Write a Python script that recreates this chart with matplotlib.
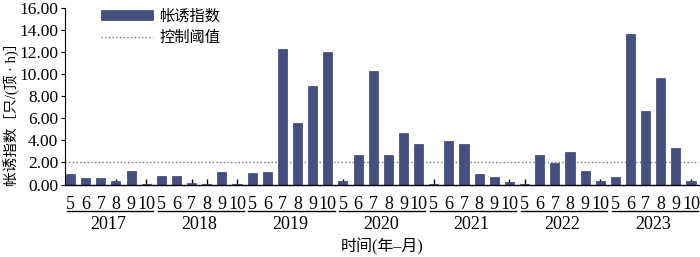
import numpy as np
import matplotlib
matplotlib.use('Agg')
import matplotlib.pyplot as plt
import matplotlib.transforms as mtransforms

plt.rcParams['font.family'] = ['Liberation Serif', 'Noto Sans CJK SC']

years = ['2017', '2018', '2019', '2020', '2021', '2022', '2023']
months = ['5', '6', '7', '8', '9', '10']
# trap index per month (May-Oct), one row per year
values = [
    [0.91, 0.62, 0.55, 0.30, 1.27, 0.05],
    [0.78, 0.78, 0.15, 0.05, 1.18, 0.03],
    [1.03, 1.18, 12.27, 5.60, 8.96, 12.00],
    [0.30, 2.64, 10.30, 2.64, 4.64, 3.64],
    [0.02, 3.96, 3.69, 0.96, 0.69, 0.20],
    [0.02, 2.64, 1.94, 2.96, 1.27, 0.30],
    [0.64, 13.66, 6.64, 9.64, 3.27, 0.30],
]
threshold = 2.0

heights = np.array(values).ravel()
x = np.arange(len(heights))
tick_labels = months * len(years)

fig = plt.figure(figsize=(7, 2.57), dpi=100)
ax = fig.add_axes([0.093, 0.282, 0.905, 0.687])

bars = ax.bar(x, heights, width=0.6, color='#474f80', edgecolor='#3a4170', linewidth=0.5,
              label='帐诱指数', zorder=2)
line = ax.axhline(threshold, color='#777777', linestyle=':', linewidth=1.0, label='控制阈值', zorder=1)

ax.set_xlim(-0.36, len(heights) - 0.5)
ax.set_ylim(0, 16)
yt = np.arange(0, 16.1, 2)
ax.set_yticks(yt)
ax.set_yticklabels([f'{v:.2f}' for v in yt], fontsize=12.5)
ax.set_xticks(x)
ax.set_xticklabels(tick_labels, fontsize=13)
ax.tick_params(axis='x', direction='in', length=4, width=1, pad=8)
ax.tick_params(axis='y', direction='out', length=3, width=0.8, pad=2)

for s in ['top', 'right']:
    ax.spines[s].set_visible(False)
ax.spines['left'].set_linewidth(0.8)
ax.spines['bottom'].set_linewidth(1.0)

# year brackets under the month labels
trans = mtransforms.blended_transform_factory(ax.transData, ax.transAxes)
for i, yr in enumerate(years):
    x0 = max(i * 6 - 0.25, -0.36)
    x1 = min(i * 6 + 5.45, len(heights) - 0.5)
    ax.plot([x0, x1], [-0.15, -0.15], color='black', linewidth=1.0,
            transform=trans, clip_on=False)
    ax.text(i * 6 + 2.5, -0.225, yr, transform=trans, ha='center', va='center',
            fontsize=13)

ax.text(0.5, -0.355, '时间(年–月)', transform=ax.transAxes, ha='center', va='center',
        fontsize=11.5)
ax.set_ylabel('帐诱指数［只/(顶 · h)］', fontsize=10.5)
ax.yaxis.set_label_coords(-0.072, 0.42)

ax.legend([bars, line], ['帐诱指数', '控制阈值'], loc='upper left',
          bbox_to_anchor=(0.035, 1.07), frameon=False, fontsize=11,
          handlelength=3.4, handleheight=0.6, handletextpad=0.4, labelspacing=0.45)

fig.savefig('out.png', dpi=100)
